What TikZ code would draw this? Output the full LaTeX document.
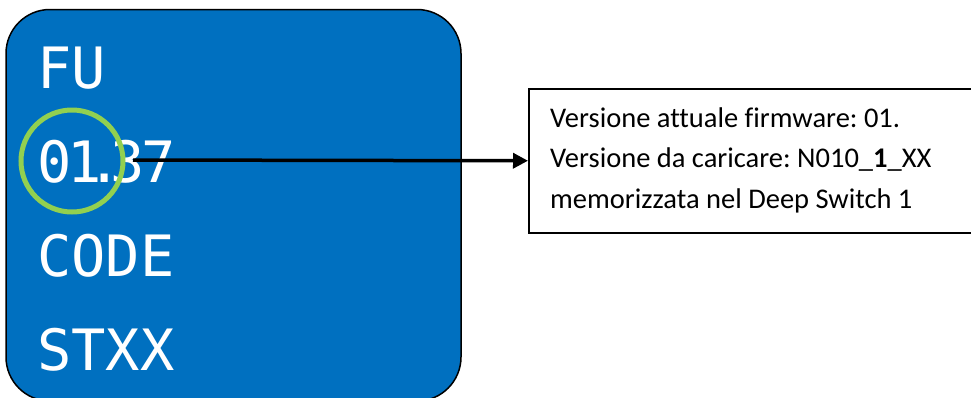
\documentclass[tikz,border=0pt]{standalone}
\usepackage{fontspec}
\setmainfont{Carlito}[Ligatures={NoCommon}]
\newfontfamily\segfont{DejaVu Sans Mono}
\usetikzlibrary{arrows.meta}
\definecolor{panelblue}{RGB}{0,112,192}
\definecolor{ringgreen}{RGB}{146,208,80}
\frenchspacing
\begin{document}
\begin{tikzpicture}[x=1pt,y=-1pt,
  seg/.style={anchor=base west, inner sep=0pt, text=white, font=\segfont\fontsize{57}{57}\selectfont},
  infoline/.style={anchor=base west, inner sep=0pt, font=\fontsize{28.5}{34}\selectfont},
  panel/.style={draw=black, fill=panelblue, line width=1.5pt, rounded corners=44pt},
  infobox/.style={draw=black, line width=1.5pt, rectangle, inner sep=0pt, anchor=north west, minimum width=450pt, minimum height=144pt},
  ring/.style={draw=ringgreen, line width=5pt, circle, inner sep=0pt, minimum size=102pt},
  pointer/.style={line width=3.5pt, -{Triangle[length=15pt,width=15pt]}}]
\useasboundingbox (0,0) rectangle (971,397);
\draw[panel] (6,9.5) rectangle (461,401);
\node[seg] (l1) at (37,88) {FU};
\node[seg] (l2) at (37,182) {0\kern-4pt1\kern-14pt.\kern-12pt3\kern-3pt7};
\node[seg] (l3) at (37,276) {CODE};
\node[seg] (l4) at (37,370) {STXX};
\node[infobox] (box) at (528,88) {};
\node[infoline] (t1) at (550,127) {Versione attuale firmware: 01.};
\node[infoline] (t2) at (550,167) {Versione da caricare: N010\_\textbf{1}\_XX};
\node[infoline] (t3) at (550,208) {memorizzata nel Deep Switch 1};
\node[ring] (circ) at (72,161) {};
\coordinate (src) at (133,160);
\draw[pointer] (src) -- (box.west);
\end{tikzpicture}
\end{document}
